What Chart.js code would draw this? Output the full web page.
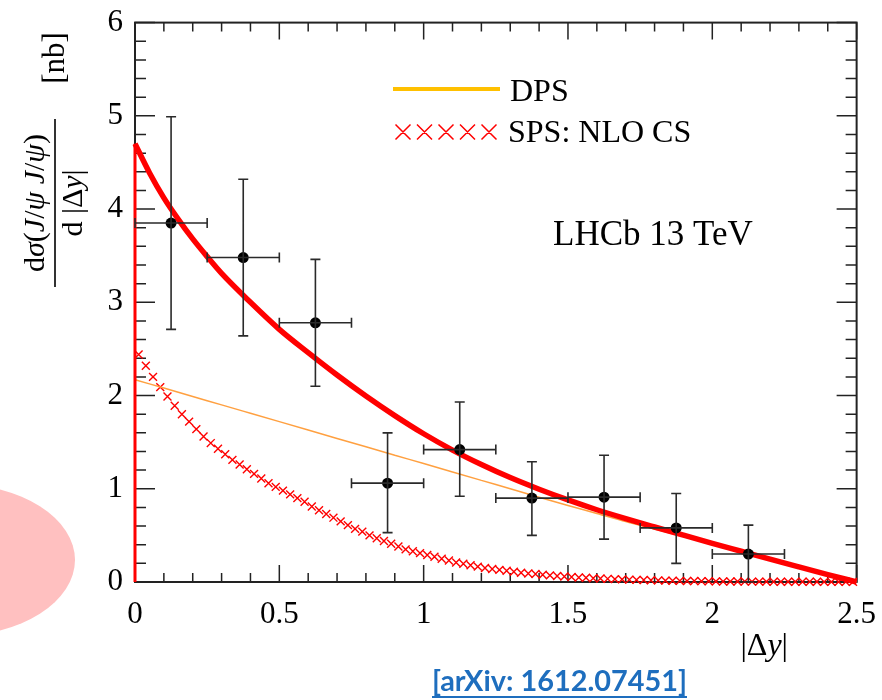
<!DOCTYPE html>
<html>
<head>
<meta charset="utf-8">
<title>J/psi pair production vs |Δy| - LHCb 13 TeV</title>
<script src="https://cdn.jsdelivr.net/npm/chart.js@4.4.1/dist/chart.umd.min.js"></script>
<style>
  html, body { margin: 0; padding: 0; background: #fff; }
  #wrap { width: 882px; height: 700px; }
</style>
</head>
<body>
<div id="wrap"><canvas id="myChart" width="882" height="700"></canvas></div>
<script>
// LHCb measurement, bins of |dy| (nb)
const binCenters = [0.125, 0.375, 0.625, 0.875, 1.125, 1.375, 1.625, 1.875, 2.125];
const binHalfWidth = [0.125, 0.125, 0.125, 0.125, 0.125, 0.125, 0.125, 0.125, 0.125];
const measured = [3.85, 3.48, 2.78, 1.06, 1.42, 0.90, 0.91, 0.58, 0.30];
const errHigh = [4.99, 4.32, 3.46, 1.60, 1.93, 1.29, 1.36, 0.95, 0.61];
const errLow = [2.71, 2.64, 2.10, 0.53, 0.92, 0.50, 0.46, 0.20, 0.00];

// theory curves
const curveX = [0, 0.05, 0.1, 0.15, 0.2, 0.25, 0.3, 0.4, 0.5, 0.6, 0.7, 0.8, 0.9, 1.0,
  1.1, 1.2, 1.3, 1.4, 1.5, 1.6, 1.7, 1.8, 1.9, 2.0, 2.1, 2.2, 2.3, 2.4, 2.5];
const totalY = [4.70, 4.39, 4.12, 3.89, 3.68, 3.49, 3.31, 3.00, 2.71, 2.46, 2.22, 1.995, 1.785, 1.59,
  1.415, 1.26, 1.12, 0.995, 0.88, 0.775, 0.68, 0.59, 0.502, 0.415, 0.33, 0.245, 0.162, 0.08, 0.00];
const dpsY = [2.17, 2.125, 2.08, 2.035, 1.99, 1.945, 1.90, 1.81, 1.72, 1.63, 1.54, 1.45, 1.36, 1.27,
  1.18, 1.09, 1.00, 0.91, 0.82, 0.735, 0.648, 0.568, 0.487, 0.405, 0.323, 0.242, 0.16, 0.079, 0.00];

// SPS NLO CS samples
const spsX = [
  0.0125, 0.0375, 0.0625, 0.0875, 0.1125, 0.1375, 0.1625, 0.1875, 0.2125, 0.2375,
  0.2625, 0.2875, 0.3125, 0.3375, 0.3625, 0.3875, 0.4125, 0.4375, 0.4625, 0.4875,
  0.5125, 0.5375, 0.5625, 0.5875, 0.6125, 0.6375, 0.6625, 0.6875, 0.7125, 0.7375,
  0.7625, 0.7875, 0.8125, 0.8375, 0.8625, 0.8875, 0.9125, 0.9375, 0.9625, 0.9875,
  1.0125, 1.0375, 1.0625, 1.0875, 1.1125, 1.1375, 1.1625, 1.1875, 1.2125, 1.2375,
  1.2625, 1.2875, 1.3125, 1.3375, 1.3625, 1.3875, 1.4125, 1.4375, 1.4625, 1.4875,
  1.5125, 1.5375, 1.5625, 1.5875, 1.6125, 1.6375, 1.6625, 1.6875, 1.7125, 1.7375,
  1.7625, 1.7875, 1.8125, 1.8375, 1.8625, 1.8875, 1.9125, 1.9375, 1.9625, 1.9875,
  2.0125, 2.0375, 2.0625, 2.0875, 2.1125, 2.1375, 2.1625, 2.1875, 2.2125, 2.2375,
  2.2625, 2.2875, 2.3125, 2.3375, 2.3625, 2.3875, 2.4125, 2.4375, 2.4625, 2.4875];
const spsY = [
  2.44, 2.32, 2.20, 2.09, 1.99, 1.89, 1.80, 1.72, 1.64, 1.56,
  1.49, 1.43, 1.37, 1.31, 1.26, 1.21, 1.16, 1.11, 1.06, 1.02,
  0.98, 0.94, 0.90, 0.86, 0.81, 0.77, 0.73, 0.69, 0.65, 0.61,
  0.57, 0.54, 0.50, 0.47, 0.44, 0.41, 0.38, 0.35, 0.33, 0.31,
  0.29, 0.27, 0.25, 0.23, 0.21, 0.195, 0.18, 0.165, 0.15, 0.14,
  0.13, 0.12, 0.11, 0.10, 0.092, 0.085, 0.078, 0.071, 0.065, 0.059,
  0.054, 0.049, 0.045, 0.041, 0.037, 0.034, 0.031, 0.028, 0.025, 0.023,
  0.021, 0.019, 0.017, 0.015, 0.014, 0.012, 0.011, 0.010, 0.009, 0.008,
  0.007, 0.006, 0.006, 0.005, 0.005, 0.004, 0.004, 0.004, 0.003, 0.003,
  0.003, 0.002, 0.002, 0.002, 0.002, 0.001, 0.001, 0.001, 0.001, 0.001];

const xTickValues = [0, 0.5, 1, 1.5, 2, 2.5];
const yTickValues = [0, 1, 2, 3, 4, 5, 6];

const SERIF = '"Liberation Serif", "DejaVu Serif", serif';
const RED = '#ff0000';
Chart.defaults.font.family = SERIF;

// draws a sequence of [text, italic] pieces on one baseline
function drawRuns(ctx, runs, x, y, align, size) {
  const font = it => (it ? 'italic ' : '') + size + 'px ' + SERIF;
  let w = 0;
  runs.forEach(([t, it]) => { ctx.font = font(it); w += ctx.measureText(t).width; });
  let cx = align === 'center' ? x - w / 2 : align === 'right' ? x - w : x;
  ctx.textAlign = 'left';
  ctx.textBaseline = 'alphabetic';
  runs.forEach(([t, it]) => {
    ctx.font = font(it);
    ctx.fillText(t, cx, y);
    cx += ctx.measureText(t).width;
  });
}

const decorations = {
  id: 'decorations',
  beforeDraw(chart) {
    const ctx = chart.ctx;
    ctx.save();
    ctx.fillStyle = '#fff';
    ctx.fillRect(0, 0, chart.width, chart.height);
    // pink blob on the left margin
    ctx.fillStyle = '#ffc0c0';
    ctx.beginPath();
    ctx.ellipse(-45, 560, 120, 76, 0, 0, Math.PI * 2);
    ctx.fill();
    ctx.restore();
  },
  beforeDatasetsDraw(chart) {
    // frame with inward ticks on all four sides
    const {ctx, chartArea: a, scales: {x, y}} = chart;
    ctx.save();
    ctx.strokeStyle = '#222';
    ctx.lineWidth = 1.5;
    ctx.beginPath();
    for (let i = 0; i <= 25; i++) {
      const px = x.getPixelForValue(i / 10);
      const len = i % 5 === 0 ? 17 : 9;
      ctx.moveTo(px, a.bottom); ctx.lineTo(px, a.bottom - len);
      ctx.moveTo(px, a.top); ctx.lineTo(px, a.top + len);
    }
    for (let i = 0; i <= 30; i++) {
      const py = y.getPixelForValue(i / 5);
      const len = i % 5 === 0 ? 20 : 11;
      ctx.moveTo(a.left, py); ctx.lineTo(a.left + len, py);
      ctx.moveTo(a.right, py); ctx.lineTo(a.right - len, py);
    }
    ctx.stroke();
    ctx.lineWidth = 2;
    ctx.strokeRect(a.left, a.top, a.right - a.left, a.bottom - a.top);
    ctx.restore();
  },
  afterDatasetsDraw(chart) {
    // error bars of the measurement
    const {ctx, scales: {x, y}} = chart;
    ctx.save();
    ctx.strokeStyle = '#2a2a2a';
    ctx.lineWidth = 1.6;
    ctx.beginPath();
    binCenters.forEach((c, i) => {
      const px = x.getPixelForValue(c);
      const py = y.getPixelForValue(measured[i]);
      const l = x.getPixelForValue(c - binHalfWidth[i]);
      const r = x.getPixelForValue(c + binHalfWidth[i]);
      const t = y.getPixelForValue(errHigh[i]);
      const b = y.getPixelForValue(errLow[i]);
      ctx.moveTo(l, py); ctx.lineTo(r, py);
      ctx.moveTo(l, py - 5); ctx.lineTo(l, py + 5);
      ctx.moveTo(r, py - 5); ctx.lineTo(r, py + 5);
      ctx.moveTo(px, t); ctx.lineTo(px, b);
      ctx.moveTo(px - 5, t); ctx.lineTo(px + 5, t);
      ctx.moveTo(px - 5, b); ctx.lineTo(px + 5, b);
    });
    ctx.stroke();
    ctx.restore();
  },
  afterDraw(chart) {
    const ctx = chart.ctx;
    ctx.save();
    ctx.fillStyle = '#000';

    // y axis title, rotated fraction
    ctx.save();
    ctx.translate(55, 203);
    ctx.rotate(-Math.PI / 2);
    ctx.fillRect(-84, -0.8, 168, 1.6);
    drawRuns(ctx, [['d', 0], ['σ', 1], ['(', 0], ['J', 1], ['/', 0], ['ψ', 1], [' ', 0], ['J', 1], ['/', 0], ['ψ', 1], [')', 0]], 0, -11, 'center', 30);
    drawRuns(ctx, [['d', 0], [' |Δ', 0], ['y', 1], ['|', 0]], 0, 27, 'center', 30);
    drawRuns(ctx, [['[nb]', 0]], 145, 9, 'center', 31);
    ctx.restore();

    // x axis title
    drawRuns(ctx, [['|Δ', 0], ['y', 1], ['|', 0]], 788, 655, 'right', 32);

    // legend
    ctx.strokeStyle = '#ffc000';
    ctx.lineWidth = 4;
    ctx.beginPath();
    ctx.moveTo(393, 89); ctx.lineTo(500, 89);
    ctx.stroke();
    drawRuns(ctx, [['DPS', 0]], 510, 101, 'left', 32);
    ctx.strokeStyle = RED;
    ctx.lineWidth = 1.5;
    ctx.beginPath();
    for (let k = 0; k < 5; k++) {
      const cx = 403 + k * 21.5, cy = 132, h = 7.5;
      ctx.moveTo(cx - h, cy - h); ctx.lineTo(cx + h, cy + h);
      ctx.moveTo(cx - h, cy + h); ctx.lineTo(cx + h, cy - h);
    }
    ctx.stroke();
    drawRuns(ctx, [['SPS: NLO CS', 0]], 508, 142, 'left', 32);

    drawRuns(ctx, [['LHCb 13 TeV', 0]], 553, 245, 'left', 35);

    // reference link
    const ref = '[arXiv: 1612.07451]';
    ctx.fillStyle = '#1e6ebe';
    ctx.font = 'bold 29px Lato, "Open Sans", sans-serif';
    ctx.textAlign = 'left';
    ctx.textBaseline = 'alphabetic';
    const w = ctx.measureText(ref).width;
    ctx.save();
    ctx.translate(432, 691);
    ctx.scale(255 / w, 1);
    ctx.fillText(ref, 0, 0);
    ctx.restore();
    ctx.fillRect(432, 696, 255, 2);
    ctx.restore();
  }
};

const toPoints = (xs, ys) => xs.map((v, i) => ({x: v, y: ys[i]}));

new Chart('myChart', {
  type: 'scatter',
  data: {
    datasets: [
      {
        label: 'LHCb',
        data: toPoints(binCenters, measured),
        pointRadius: 5.5,
        backgroundColor: '#000',
        borderColor: '#000',
        borderWidth: 0,
        order: 0
      },
      {
        label: 'DPS + SPS',
        data: toPoints(curveX, totalY),
        showLine: true,
        borderColor: RED,
        borderWidth: 5.5,
        pointRadius: 0,
        cubicInterpolationMode: 'monotone',
        order: 1
      },
      {
        label: 'edge',
        data: [{x: curveX[0], y: 0}, {x: curveX[0], y: totalY[0]}],
        showLine: true,
        borderColor: RED,
        borderWidth: 3,
        pointRadius: 0,
        order: 2
      },
      {
        label: 'DPS',
        data: toPoints(curveX, dpsY),
        showLine: true,
        borderColor: '#ffa040',
        borderWidth: 1.5,
        pointRadius: 0,
        cubicInterpolationMode: 'monotone',
        order: 3
      },
      {
        label: 'SPS: NLO CS',
        data: toPoints(spsX, spsY),
        pointStyle: 'crossRot',
        pointRadius: 5.6,
        borderColor: RED,
        borderWidth: 1.4,
        order: 4
      }
    ]
  },
  options: {
    responsive: false,
    animation: false,
    events: [],
    clip: false,
    layout: {padding: {top: 19, right: 25, left: 0, bottom: 0}},
    plugins: {
      legend: {display: false},
      tooltip: {enabled: false}
    },
    scales: {
      x: {
        type: 'linear',
        min: 0,
        max: 2.5,
        afterBuildTicks: s => { s.ticks = xTickValues.map(v => ({value: v})); },
        afterFit: s => { s.height = 118; },
        grid: {display: false},
        border: {display: false},
        ticks: {
          autoSkip: false,
          maxRotation: 0,
          padding: 6,
          color: '#000',
          font: {family: SERIF, size: 31},
          callback: v => String(v)
        }
      },
      y: {
        type: 'linear',
        min: 0,
        max: 6,
        afterBuildTicks: s => { s.ticks = yTickValues.map(v => ({value: v})); },
        afterFit: s => { s.width = 135; },
        grid: {display: false},
        border: {display: false},
        ticks: {
          padding: 4,
          color: '#000',
          font: {family: SERIF, size: 31},
          callback: v => String(v)
        }
      }
    }
  },
  plugins: [decorations]
});
</script>
</body>
</html>
